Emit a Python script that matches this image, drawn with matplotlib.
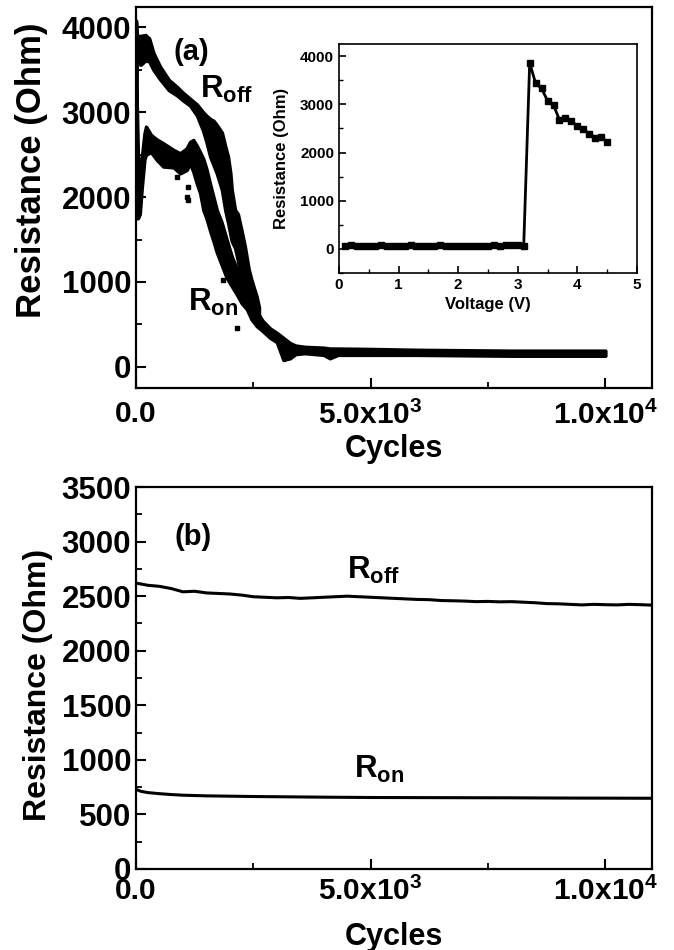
import numpy as np
import matplotlib.pyplot as plt
from matplotlib.ticker import MultipleLocator, FixedLocator, FixedFormatter

plt.rcParams['font.family'] = ['Liberation Sans', 'DejaVu Sans']
plt.rcParams['font.weight'] = 'bold'
plt.rcParams['mathtext.fontset'] = 'custom'
plt.rcParams['mathtext.rm'] = 'Liberation Sans:bold'
plt.rcParams['mathtext.bf'] = 'Liberation Sans:bold'
plt.rcParams['mathtext.default'] = 'bf'

# ---- panel (a): scatter band of R_off / R_on vs cycles (lower / upper edge)
roff_a_cyc = [0, 15, 100, 200, 280, 370, 510, 700, 870, 1000, 1150, 1300, 1430,
              1500, 1580, 1650, 1720, 1830, 1900, 1960, 2010, 2040, 2110, 2170,
              2250, 2320, 2400, 2460, 2570, 2620]
roff_a_lo = [3300, 3580, 3560, 3610, 3600, 3500, 3390, 3260, 3200, 3140, 3080, 2960,
             2780, 2650, 2476, 2380, 2280, 2084, 1848, 1700, 1560, 1480, 1400, 1250,
             1022, 826, 700, 650, 600, 600]
roff_a_hi = [4080, 3900, 3900, 3910, 3870, 3700, 3540, 3380, 3300, 3230, 3160, 3090,
             3000, 2960, 2920, 2900, 2850, 2760, 2600, 2476, 2280, 2084, 1848, 1800,
             1600, 1415, 1150, 1022, 826, 700]

ron_a_cyc = [0, 20, 40, 80, 121, 180, 213, 320, 440, 580, 800, 940, 1080, 1150, 1220,
             1300, 1364, 1434, 1500, 1580, 1650, 1720, 1825, 1930, 2040, 2150, 2250,
             2360, 2460, 2570, 2700, 2860, 3000, 3140, 3280, 3400, 3600, 4000, 4130,
             4300, 5000, 6000, 7000, 8000, 9000, 10000]
ron_a_lo = [1800, 1750, 1750, 1800, 2100, 2450, 2500, 2530, 2440, 2360, 2350, 2280,
            2320, 2398, 2300, 2150, 2050, 1848, 1750, 1600, 1480, 1350, 1200, 1050,
            950, 850, 750, 680, 560, 480, 420, 340, 290, 80, 100, 150, 160, 140, 100,
            140, 140, 140, 135, 130, 130, 130]
ron_a_hi = [3500, 3000, 2500, 2300, 2450, 2750, 2830, 2732, 2680, 2634, 2555, 2516,
            2575, 2650, 2673, 2600, 2530, 2450, 2330, 2150, 2000, 1848, 1700, 1500,
            1300, 1150, 1022, 900, 780, 650, 540, 450, 400, 340, 280, 250, 235, 225,
            215, 215, 210, 200, 195, 190, 190, 190]

outlier_cyc = [867, 1115, 1115, 1080, 1860, 2144]
outlier_res = [2241, 2123, 1966, 2005, 1022, 453]

# ---- inset: resistance vs voltage
inset_v = [round(0.1 * i, 1) for i in range(1, 46)]
inset_r = [70, 72, 70, 70, 71, 70, 72, 70, 70, 71, 70, 72, 70, 70, 71, 70, 72, 70,
           70, 71, 70, 70, 70, 71, 70, 72, 70, 75, 90, 75, 70,
           3862, 3433, 3329, 3073, 2983, 2678, 2720, 2644, 2554, 2478, 2394, 2311,
           2325, 2215]

# ---- panel (b): endurance
roff_b_cyc = list(range(0, 11001, 250))
roff_b = [2620, 2600, 2590, 2570, 2540, 2545, 2530, 2525, 2520, 2510, 2495, 2490,
          2485, 2488, 2480, 2485, 2490, 2495, 2500, 2495, 2490, 2485, 2480, 2475,
          2470, 2468, 2460, 2458, 2455, 2450, 2452, 2448, 2450, 2445, 2440, 2432,
          2430, 2425, 2420, 2425, 2422, 2420, 2425, 2422, 2418]
ron_b_cyc = [0, 100, 250, 500, 750, 1000, 1500, 2000, 2500, 3000, 4000, 5000, 6000,
             7000, 8000, 9000, 10000, 11000]
ron_b = [730, 712, 700, 690, 682, 676, 670, 667, 664, 662, 658, 655, 654, 653, 652,
         650, 649, 648]

cyc_ticks = [0, 5000, 10000]
cyc_labels = ['0.0', r'5.0x10$^{3}$', r'1.0x10$^{4}$']


def style(ax, fs):
    for s in ax.spines.values():
        s.set_linewidth(1.6)
    ax.tick_params(which='major', direction='in', length=7, width=1.5,
                   labelsize=fs, top=False, right=False)
    ax.tick_params(which='minor', direction='in', length=4, width=1.3,
                   top=False, right=False)


fig = plt.figure(figsize=(6.74, 9.5), dpi=100)

# panel (a)
ax1 = fig.add_axes([0.2018, 0.5916, 0.766, 0.401])
ax1.fill_between(roff_a_cyc, roff_a_lo, roff_a_hi, color='black', lw=2.5)
ax1.fill_between(ron_a_cyc, ron_a_lo, ron_a_hi, color='black', lw=2.5)
ax1.plot(outlier_cyc, outlier_res, 's', color='black', ms=3)
ax1.set_xlim(0, 11000)
ax1.set_ylim(-250, 4240)
ax1.xaxis.set_major_locator(FixedLocator(cyc_ticks))
ax1.xaxis.set_major_formatter(FixedFormatter(cyc_labels))
ax1.xaxis.set_minor_locator(MultipleLocator(2500))
ax1.yaxis.set_major_locator(MultipleLocator(1000))
ax1.yaxis.set_minor_locator(MultipleLocator(500))
style(ax1, 21.5)
ax1.tick_params(axis='y', labelsize=22.5)
ax1.tick_params(axis='x', pad=9)
ax1.set_xlabel('Cycles', fontsize=22, fontweight='bold', labelpad=3)
ax1.set_ylabel('Resistance (Ohm)', fontsize=25, fontweight='bold')
ax1.yaxis.set_label_coords(-0.170, 0.572)
ax1.text(800, 3711, '(a)', fontsize=21, fontweight='bold', va='center')
ax1.text(1363, 3263, r'R$_{\mathbf{off}}$', fontsize=22.5, va='center')
ax1.text(1108, 763, r'R$_{\mathbf{on}}$', fontsize=22.5, va='center')

# inset
ax3 = fig.add_axes([0.503, 0.7126, 0.442, 0.241])
ax3.plot(inset_v, inset_r, 's-', color='black', lw=2, ms=4)
ax3.set_xlim(0, 5)
ax3.set_ylim(-500, 4250)
ax3.xaxis.set_major_locator(MultipleLocator(1))
ax3.xaxis.set_minor_locator(MultipleLocator(0.5))
ax3.yaxis.set_major_locator(MultipleLocator(1000))
ax3.yaxis.set_minor_locator(MultipleLocator(500))
style(ax3, 11)
for s in ax3.spines.values():
    s.set_linewidth(1.2)
ax3.tick_params(which='major', length=5, width=1.2)
ax3.tick_params(which='minor', length=3, width=1.0)
ax3.set_xlabel('Voltage (V)', fontsize=12, fontweight='bold', labelpad=4)
ax3.set_ylabel('Resistance (Ohm)', fontsize=12, fontweight='bold', labelpad=8)

# panel (b)
ax2 = fig.add_axes([0.2018, 0.0853, 0.766, 0.402])
ax2.plot(roff_b_cyc, roff_b, color='black', lw=2.2)
ax2.plot(ron_b_cyc, ron_b, color='black', lw=2.2)
ax2.set_xlim(0, 11000)
ax2.set_ylim(0, 3500)
ax2.xaxis.set_major_locator(FixedLocator(cyc_ticks))
ax2.xaxis.set_major_formatter(FixedFormatter(cyc_labels))
ax2.xaxis.set_minor_locator(MultipleLocator(2500))
ax2.yaxis.set_major_locator(MultipleLocator(500))
ax2.yaxis.set_minor_locator(MultipleLocator(250))
style(ax2, 21.5)
ax2.tick_params(axis='y', labelsize=22.5)
ax2.tick_params(axis='x', pad=6)
ax2.set_xlabel('Cycles', fontsize=22, fontweight='bold', labelpad=11)
ax2.set_ylabel('Resistance (Ohm)', fontsize=23, fontweight='bold')
ax2.yaxis.set_label_coords(-0.160, 0.482)
ax2.text(810, 3046, '(b)', fontsize=21, fontweight='bold', va='center')
ax2.text(4489, 2739, r'R$_{\mathbf{off}}$', fontsize=22.5, va='center')
ax2.text(4638, 912, r'R$_{\mathbf{on}}$', fontsize=22.5, va='center')

fig.savefig('out.png', dpi=100)
